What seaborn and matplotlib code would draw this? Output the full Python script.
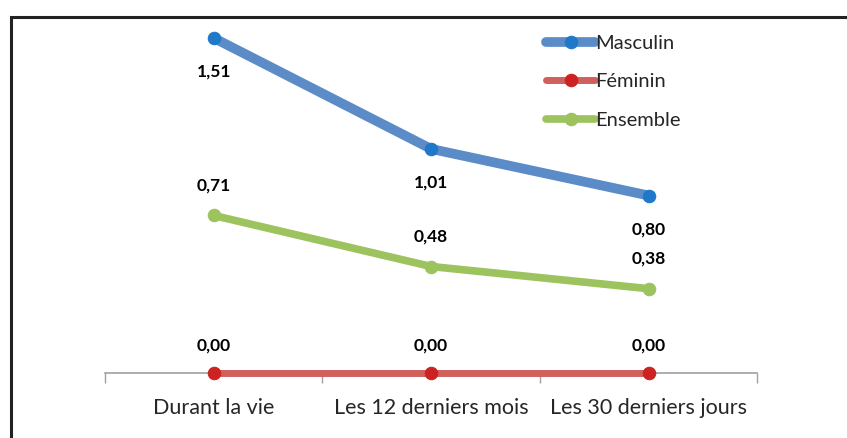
import numpy as np
import pandas as pd
import matplotlib
matplotlib.use('Agg')
import matplotlib.pyplot as plt
import matplotlib.patches as mpatches
import seaborn as sns

periodes = ['Durant la vie', 'Les 12 derniers mois', 'Les 30 derniers jours']
masculin = [1.51, 1.01, 0.80]
feminin = [0.00, 0.00, 0.00]
ensemble = [0.71, 0.48, 0.38]

series = ['Masculin', 'Féminin', 'Ensemble']
line_colors = ['#5b8cc8', '#d0605c', '#9cc35e']
marker_colors = ['#1f78c8', '#cc2222', '#9cc35e']
line_widths = [7, 5, 5.5]
# vertical offset of the value labels in pixels (negative = below)
label_offsets = [-34, 27, 30]

sns.set_style('white')
plt.rcParams['font.family'] = ['Lato', 'DejaVu Sans']

df = pd.DataFrame({'pos': np.arange(len(periodes)),
                   'Masculin': masculin, 'Féminin': feminin, 'Ensemble': ensemble})

fig = plt.figure(figsize=(8.47, 4.38), dpi=100)
ax = fig.add_axes([0.124, 0.1484, 0.77, 0.8105])

handles = []
for name, lc, mc, lw, off in zip(series, line_colors, marker_colors, line_widths, label_offsets):
    sns.lineplot(data=df, x='pos', y=name, ax=ax, color=lc, lw=lw, marker='o',
                 markersize=9, markerfacecolor=mc, markeredgecolor=mc,
                 label=name, clip_on=False, zorder=3, legend=False)
    handles.append(ax.lines[-1])
    for x, y in zip(df['pos'], df[name]):
        ax.annotate(f'{y:.2f}'.replace('.', ','), (x, y), xytext=(0, off),
                    textcoords='offset pixels', ha='center', va='center',
                    fontsize=12.5, fontweight='bold', color='black')

ax.set_xlim(-0.5, 2.5)
ax.set_ylim(0, 1.6)
ax.set_xticks(range(len(periodes)))
ax.set_xticklabels(periodes, fontsize=15.5)
ax.set_xticks([-0.5, 0.5, 1.5, 2.5], minor=True)
ax.tick_params(axis='x', which='major', length=0, pad=18)
ax.tick_params(axis='x', which='minor', length=7, width=1, color='#a0a0a0', direction='out', bottom=True)
ax.set_yticks([])
ax.set_xlabel('')
ax.set_ylabel('')
for s in ['top', 'right', 'left']:
    ax.spines[s].set_visible(False)
ax.spines['bottom'].set_color('#a0a0a0')
ax.spines['bottom'].set_linewidth(1.2)
ax.spines['bottom'].set_zorder(1)

leg = ax.legend(handles=handles, labels=series, loc='upper left',
                bbox_to_anchor=(0.649, 1.003), frameon=False, fontsize=14.5,
                handlelength=2.4, handletextpad=0.02, labelspacing=1.05)

# black frame around the chart
fig.patches.append(mpatches.Rectangle((11 / 847, -0.1), 1.2, (438 - 17) / 438 + 0.1,
                                      transform=fig.transFigure, fill=False,
                                      edgecolor='#222222', lw=2.2))

fig.savefig('out.png', dpi=100)
